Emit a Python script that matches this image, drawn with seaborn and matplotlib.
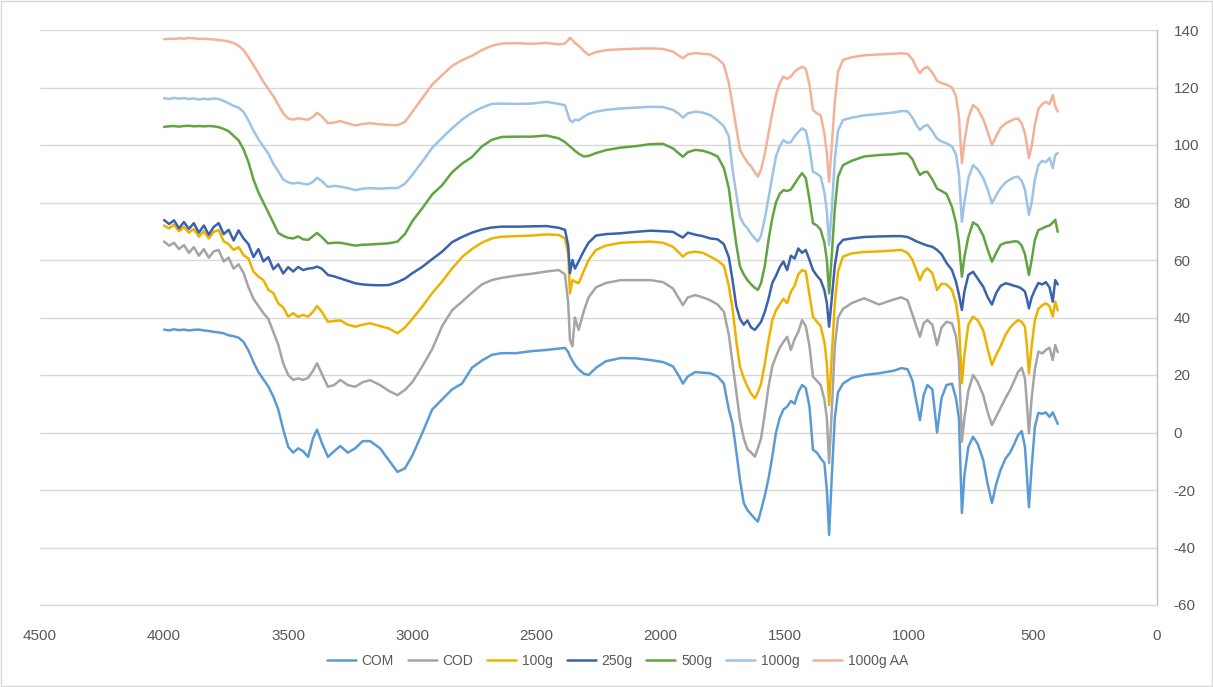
import pandas as pd
import numpy as np
import matplotlib
matplotlib.use("Agg")
import matplotlib.pyplot as plt
from matplotlib.patches import Rectangle
import seaborn as sns

# wavenumber grid (cm-1), shared by all spectra
wavenumber = [
    4000, 3980, 3960, 3940, 3920, 3900, 3880, 3860, 3840, 3820, 3800, 3780, 3760, 3740, 3720,
    3700, 3680, 3660, 3640, 3620, 3600, 3580, 3560, 3540, 3520, 3500, 3480, 3460, 3440,
    3420, 3400, 3384, 3365, 3340, 3315, 3290, 3260, 3230, 3200, 3170, 3130, 3095, 3060, 3030,
    3000, 2960, 2920, 2880, 2840, 2800, 2760, 2720, 2680,
    2640, 2580, 2520, 2460, 2410, 2385, 2372, 2365, 2355, 2345, 2330, 2310, 2290, 2260, 2220,
    2160, 2100, 2040, 1990,
    1950, 1925, 1910, 1890, 1860, 1830, 1800, 1770, 1745,
    1725, 1710, 1695, 1680, 1665, 1650, 1635, 1620, 1608, 1595, 1580, 1565, 1550, 1535, 1520,
    1505, 1490, 1475, 1460, 1445, 1430, 1415,
    1400, 1386, 1370, 1355, 1340, 1330, 1321, 1310, 1298, 1285, 1265, 1230, 1180, 1120, 1060, 1030,
    1005, 985, 970, 955, 940, 925, 905, 886, 868, 848, 826, 810, 798, 786, 776, 760, 741, 722,
    700, 682, 665, 648, 630, 610, 592, 575, 560, 545, 532, 524, 516, 505, 492, 478, 462, 448,
    433, 420, 410, 400,
]

com = [
    35.8, 35.5, 35.9, 35.6, 35.8, 35.5, 35.7, 35.8, 35.5, 35.3, 35.0, 34.8, 34.5, 33.8, 33.5,
    33.0, 31.5, 28.5, 24.5, 21.0, 18.5, 16.0, 12.5, 8.0, 1.0, -5.0, -7.0, -5.5, -6.5,
    -8.5, -2.0, 1.0, -3.5, -8.5, -6.5, -4.7, -7.0, -5.5, -3.0, -3.0, -5.5, -9.6, -13.7, -12.5,
    -8.0, -0.2, 8.0, 11.5, 15.0, 17.0, 22.5, 25.0, 27.0,
    27.6, 27.6, 28.3, 28.7, 29.2, 29.4, 28.0, 26.5, 25.0, 23.5, 22.0, 20.5, 20.0, 22.5, 24.8,
    25.9, 25.8, 25.2, 24.5,
    23.0, 19.5, 17.0, 19.5, 21.0, 20.8, 20.6, 19.5, 17.0,
    8.0, 3.0, -6.5, -16.5, -24.5, -27.0, -28.5, -30.0, -31.0, -27.0, -22.0, -16.0, -8.5, 0.0, 5.0,
    8.0, 9.0, 11.0, 10.0, 14.0, 16.5, 15.5,
    9.0, -6.0, -7.0, -9.0, -10.6, -20.0, -35.6, -15.0, 5.0, 14.0, 17.0, 19.0, 20.0, 20.6, 21.5, 22.4,
    22.0, 18.0, 11.0, 4.3, 13.0, 16.5, 15.0, 0.0, 12.0, 16.5, 17.0, 12.0, 5.0, -28.0, -15.0, -5.0, -1.5, -4.0,
    -9.6, -18.0, -24.5, -18.0, -13.0, -9.0, -7.0, -4.0, -1.0, 0.5, -5.0, -15.0, -26.0, -12.0, 2.0, 6.8, 6.5, 7.0,
    5.4, 7.0, 5.0, 3.0,
]

cod = [
    66.4, 65.0, 66.0, 63.8, 65.2, 62.5, 64.5, 61.5, 63.8, 60.8, 63.0, 63.5, 59.5, 60.8, 57.0,
    58.5, 55.5, 50.5, 46.5, 44.0, 41.5, 39.5, 35.0, 30.5, 24.0, 20.0, 18.3, 18.8, 18.3,
    19.0, 21.5, 24.1, 20.5, 15.9, 16.5, 18.3, 16.5, 15.9, 17.5, 18.2, 16.5, 14.5, 13.0, 14.8,
    17.5, 23.0, 29.0, 37.0, 42.5, 45.5, 48.6, 51.5, 53.0,
    53.8, 54.6, 55.2, 56.0, 56.5, 55.0, 45.0, 32.2, 30.0, 40.0, 35.7, 42.0, 47.0, 50.5, 52.0,
    53.0, 53.0, 53.0, 52.3,
    50.1, 46.5, 44.3, 47.0, 47.8, 47.0, 46.0, 44.5, 42.0,
    34.0, 24.0, 14.0, 4.3, -2.0, -5.8, -7.0, -8.4, -5.5, -2.0, 6.5, 16.0, 23.0, 26.5, 29.5,
    31.5, 33.3, 28.7, 32.5, 35.0, 39.1, 37.0,
    30.0, 19.4, 18.0, 16.5, 11.5, 5.0, -10.7, 8.0, 30.0, 40.0, 43.0, 45.0, 46.7, 44.5, 46.3, 47.0,
    46.0, 41.0, 37.0, 33.3, 38.0, 39.1, 37.5, 30.4, 36.5, 38.5, 38.0, 33.5, 25.0, -3.2, 5.0, 14.5, 20.0, 17.5,
    13.0, 7.0, 2.6, 5.5, 8.5, 12.0, 14.8, 18.0, 21.0, 22.5, 18.8, 10.0, -0.3, 12.0, 22.0, 28.1, 27.5, 28.7,
    29.5, 25.2, 30.4, 28.0,
]

g100 = [
    72.0, 71.0, 72.3, 70.0, 71.5, 69.5, 70.8, 68.1, 70.0, 67.5, 69.8, 70.4, 66.5, 65.5, 63.5,
    64.5, 61.7, 60.5, 56.0, 54.2, 53.0, 49.6, 48.5, 44.9, 43.5, 40.3, 41.5, 40.2, 40.9,
    40.3, 42.0, 44.0, 42.0, 38.5, 38.8, 39.0, 37.5, 36.8, 37.5, 38.0, 37.0, 36.2, 34.5, 36.5,
    39.5, 43.8, 48.5, 52.5, 57.0, 61.0, 63.8, 66.0, 67.5,
    68.1, 68.3, 68.5, 68.9, 68.7, 67.5, 62.3, 48.4, 53.0, 52.5, 51.9, 56.0, 60.0, 63.5, 65.0,
    66.0, 66.2, 66.4, 66.0,
    64.6, 62.5, 61.2, 62.5, 62.9, 62.5, 61.2, 59.8, 58.0,
    51.0, 43.0, 32.0, 22.9, 19.0, 16.0, 13.5, 11.9, 14.0, 17.0, 24.0, 32.0, 39.0, 42.5, 44.5,
    46.5, 45.0, 49.0, 51.0, 55.0, 56.5, 56.0,
    48.0, 40.3, 38.5, 37.0, 31.5, 24.0, 9.6, 27.0, 45.0, 56.0, 61.2, 62.3, 62.8, 63.0, 63.3, 63.5,
    62.5, 60.0, 56.5, 53.0, 56.0, 57.1, 55.4, 49.6, 51.8, 51.5, 49.6, 45.0, 38.0, 17.1, 27.0, 37.5, 40.3, 39.0,
    35.5, 29.0, 23.5, 27.0, 30.0, 34.0, 36.5, 38.0, 39.1, 38.5, 36.8, 30.0, 20.6, 30.0, 39.1, 43.0, 44.3, 44.9,
    44.0, 40.3, 45.5, 42.5,
]

g250 = [
    73.9, 72.5, 73.8, 71.0, 73.2, 70.8, 72.8, 69.5, 72.0, 68.8, 71.5, 72.8, 69.0, 70.5, 66.8,
    70.3, 67.5, 65.5, 61.0, 63.8, 59.5, 61.0, 56.8, 58.5, 55.3, 57.5, 56.0, 57.6, 56.5,
    57.0, 57.2, 57.7, 57.0, 54.8, 54.3, 53.6, 52.8, 51.9, 51.5, 51.3, 51.2, 51.3, 52.3, 53.5,
    55.4, 57.6, 60.3, 62.9, 66.2, 68.0, 69.5, 70.6, 71.3,
    71.6, 71.6, 71.7, 71.8, 71.2, 70.5, 65.0, 55.4, 60.0, 57.0, 59.5, 63.0, 66.0, 68.5, 69.0,
    69.3, 69.8, 70.2, 70.0,
    69.8, 68.5, 67.8, 69.5, 68.8, 68.3, 67.5, 67.2, 65.5,
    61.0, 53.0, 44.0, 39.5, 37.5, 39.0, 36.5, 35.7, 37.0, 38.5, 42.0, 46.5, 52.0, 54.5, 57.5,
    59.5, 56.5, 61.5, 60.5, 64.0, 62.5, 63.5,
    60.0, 56.5, 54.5, 53.0, 49.5, 45.0, 36.8, 47.0, 58.0, 65.0, 67.0, 67.5, 68.0, 68.2, 68.3, 68.3,
    68.0, 67.2, 66.5, 66.0, 65.5, 65.0, 64.6, 63.5, 62.0, 59.0, 56.5, 52.5, 48.0, 42.6, 49.0, 54.8, 55.9, 53.5,
    50.7, 47.0, 44.5, 48.5, 51.0, 51.9, 51.5, 51.0, 50.7, 50.0, 49.0, 46.5, 43.2, 47.0, 49.6, 52.0, 51.5, 52.3,
    50.5, 45.5, 53.0, 51.5,
]

g500 = [
    106.3, 106.5, 106.6, 106.4, 106.6, 106.7, 106.5, 106.6, 106.5, 106.6, 106.5, 106.2, 105.6, 104.8, 103.2,
    101.6, 98.5, 94.0, 88.0, 83.5, 80.0, 76.5, 73.0, 69.4, 68.4, 67.7, 67.5, 68.2, 67.2,
    67.0, 68.3, 69.4, 68.0, 65.8, 66.0, 66.0, 65.5, 65.0, 65.3, 65.4, 65.6, 65.8, 66.4, 69.0,
    73.5, 78.0, 82.8, 86.0, 90.5, 93.5, 95.8, 99.5, 101.8,
    102.8, 102.9, 102.9, 103.3, 102.3, 101.0, 100.0, 99.5, 98.8, 98.0, 97.0, 96.0, 96.2, 97.2, 98.2,
    99.1, 99.6, 100.3, 100.4,
    98.8, 97.0, 95.9, 97.5, 98.3, 98.0, 97.2, 96.0, 92.0,
    85.0, 75.0, 65.5, 57.7, 55.0, 53.0, 51.5, 50.3, 49.6, 52.0, 58.0, 67.0, 74.5, 80.0, 83.0,
    84.3, 84.0, 84.5, 86.5, 88.5, 90.2, 88.5,
    81.0, 72.8, 72.0, 70.5, 66.0, 60.0, 48.4, 62.0, 78.0, 89.0, 93.0, 94.5, 96.0, 96.5, 96.8, 97.1,
    97.0, 95.0, 92.0, 89.6, 90.5, 90.7, 88.0, 84.8, 84.0, 83.0, 78.5, 73.0, 66.0, 54.2, 61.0, 68.0, 73.1, 72.0,
    68.5, 63.5, 59.4, 62.5, 65.3, 66.0, 66.2, 66.5, 66.4, 65.0, 62.0, 58.5, 54.8, 60.0, 67.0, 70.4, 71.0, 71.6,
    72.0, 73.0, 74.0, 69.8,
]

g1000 = [
    116.3, 116.0, 116.4, 116.1, 116.3, 116.0, 116.2, 115.8, 116.1, 115.9, 116.2, 116.0, 115.3, 114.5, 113.6,
    113.0, 111.5, 108.5, 105.0, 102.0, 99.5, 97.0, 93.5, 90.8, 88.0, 87.0, 86.6, 86.9, 86.5,
    86.3, 87.2, 88.6, 87.5, 85.4, 85.8, 85.5, 85.0, 84.3, 84.8, 85.0, 84.8, 85.0, 85.0, 86.5,
    89.6, 94.2, 99.0, 102.5, 105.8, 108.8, 111.2, 113.0, 114.3,
    114.4, 114.3, 114.4, 115.0, 114.3, 113.8, 110.4, 108.5, 108.0, 108.8, 108.6, 109.8, 110.8, 111.6, 112.2,
    112.7, 113.0, 113.3, 113.2,
    112.2, 110.8, 109.5, 111.0, 111.6, 111.3, 110.4, 108.5, 106.5,
    103.0, 91.5, 83.0, 75.0, 72.5, 71.0, 69.0, 67.5, 66.4, 68.5, 74.5, 81.5, 89.0, 96.0, 99.5,
    101.7, 100.8, 101.0, 103.0, 104.5, 105.8, 105.0,
    99.0, 90.7, 90.0, 89.0, 83.5, 77.0, 65.2, 78.0, 95.0, 105.0, 108.7, 109.5, 110.3, 110.8, 111.3, 111.8,
    111.7, 109.5, 107.0, 105.2, 106.5, 107.0, 104.8, 102.2, 101.2, 100.6, 99.5, 96.8, 90.0, 73.3, 80.0, 88.5, 93.0, 91.5,
    88.5, 84.5, 79.7, 82.5, 85.0, 87.0, 88.0, 88.8, 89.0, 87.5, 84.5, 80.0, 75.7, 80.0, 88.0, 93.0, 94.5, 94.0,
    95.5, 92.0, 96.5, 97.2,
]

g1000_aa = [
    136.8, 137.0, 136.9, 137.1, 137.0, 137.2, 137.1, 136.9, 137.0, 136.8, 136.7, 136.5, 136.3, 136.0, 135.5,
    134.5, 133.0, 130.5, 127.8, 125.0, 122.0, 119.5, 117.0, 114.0, 111.0, 109.2, 108.8, 109.3, 109.0,
    108.8, 109.8, 111.2, 110.0, 107.6, 107.8, 108.3, 107.5, 106.8, 107.3, 107.6, 107.2, 107.0, 106.9, 108.0,
    111.5, 116.3, 121.0, 124.3, 127.5, 129.5, 131.0, 133.0, 134.5,
    135.3, 135.4, 135.2, 135.5, 135.0, 135.3, 136.5, 137.3, 136.5, 135.5, 134.5, 132.8, 131.3, 132.3, 133.0,
    133.3, 133.5, 133.6, 133.4,
    132.5, 131.0, 130.2, 131.5, 132.0, 131.7, 131.5, 130.0, 128.0,
    121.5, 114.0, 106.0, 98.3, 96.0, 94.0, 92.5, 90.5, 89.0, 91.5, 97.0, 104.0, 111.0, 117.5, 121.5,
    123.8, 123.0, 123.8, 125.5, 126.5, 127.2, 126.5,
    121.0, 112.2, 111.0, 110.3, 104.0, 97.0, 87.2, 100.0, 115.0, 125.5, 129.6, 130.5, 131.2, 131.5, 131.7, 131.9,
    131.7, 129.8, 127.0, 125.0, 126.5, 127.2, 125.2, 122.3, 121.5, 121.0, 120.0, 117.0, 110.0, 93.7, 101.0, 109.5, 113.9, 112.5,
    109.0, 104.5, 100.0, 103.0, 106.0, 107.5, 108.3, 109.0, 109.2, 107.5, 104.0, 100.0, 95.5, 99.5, 107.0, 112.5, 114.3, 115.0,
    114.2, 117.4, 113.5, 111.6,
]

sample_names = ["COM", "COD", "100g", "250g", "500g", "1000g", "1000g AA"]
sample_colors = ["#5B9BD5", "#A5A5A5", "#EDB100", "#3A62AD", "#62A442", "#9DC3E6", "#F4B19A"]
series = [com, cod, g100, g250, g500, g1000, g1000_aa]

frames = []
for name, vals in zip(sample_names, series):
    frames.append(pd.DataFrame({"wavenumber": wavenumber, "value": vals, "sample": name}))
df = pd.concat(frames, ignore_index=True)

sns.set_theme(style="white")
plt.rcParams['font.family'] = ['Liberation Sans Narrow', 'Liberation Sans', 'DejaVu Sans']
plt.rcParams['axes.unicode_minus'] = False

fig = plt.figure(figsize=(12.13, 6.87), dpi=100)
ax = fig.add_axes([40 / 1213, 1 - 605 / 687, 1117 / 1213, 575 / 687])

sns.lineplot(data=df, x="wavenumber", y="value", hue="sample", hue_order=sample_names,
             palette=dict(zip(sample_names, sample_colors)), estimator=None, sort=False,
             linewidth=1.8, ax=ax)

ax.set_xlim(4500, 0)
ax.set_ylim(-60, 140)
ax.set_xticks(np.arange(0, 4501, 500))
ax.set_yticks(np.arange(-60, 141, 20))
ax.yaxis.tick_right()
ax.grid(axis="y", color="#D9D9D9", linewidth=1)
ax.grid(axis="x", visible=False)
ax.set_xlabel("")
ax.set_ylabel("")
for side in ["top", "left"]:
    ax.spines[side].set_visible(False)
ax.spines["bottom"].set_color("#D9D9D9")
ax.spines["bottom"].set_linewidth(1)
ax.spines["right"].set_color("#BFBFBF")
ax.spines["right"].set_linewidth(1)
ax.tick_params(axis="x", length=0, pad=17, labelsize=11, labelcolor="#595959")
ax.tick_params(axis="y", length=0, pad=12, labelsize=11, labelcolor="#595959")

handles, labels = ax.get_legend_handles_labels()
ax.legend(handles, labels, loc="center", bbox_to_anchor=(0.517, -0.097), ncol=7,
          frameon=False, fontsize=10, handlelength=2.1, handletextpad=0.4,
          columnspacing=1.0, labelcolor="#595959")

fig.patches.append(Rectangle((0.0008, 0.0015), 0.9984, 0.997, transform=fig.transFigure,
                             fill=False, edgecolor="#D9D9D9", linewidth=1))

fig.savefig("out.png", dpi=100)
